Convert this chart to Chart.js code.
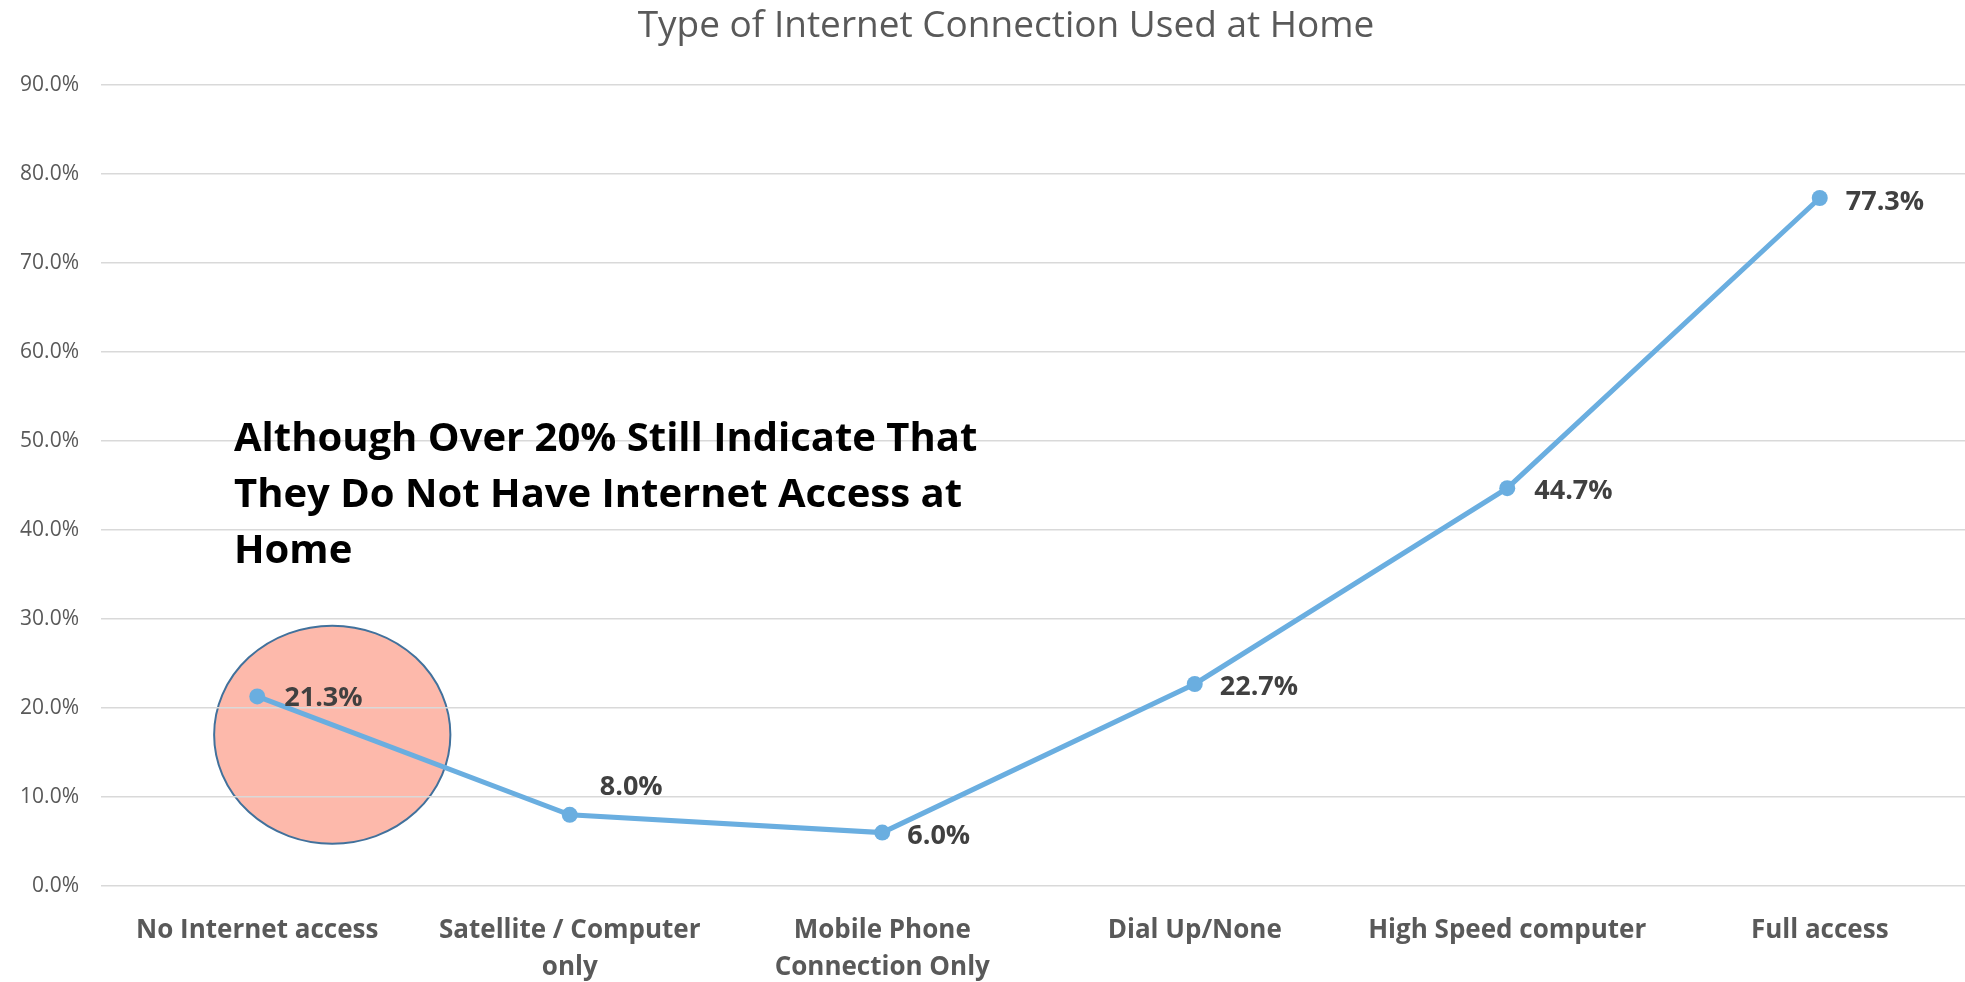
<!DOCTYPE html>
<html lang="en">
<head>
<meta charset="UTF-8">
<title>Type of Internet Connection Used at Home</title>
<script src="https://cdn.jsdelivr.net/npm/chart.js"></script>
<style>
    html, body {
        margin: 0;
        padding: 0;
        background: #ffffff;
        overflow: hidden;
    }
</style>
</head>
<body>
<canvas id="connChart" width="1984" height="982"></canvas>
<script>
// Chart data
const chartTitle = 'Type of Internet Connection Used at Home';
const categories = [
    'No Internet access',
    ['Satellite / Computer', 'only'],
    ['Mobile Phone', 'Connection Only'],
    'Dial Up/None',
    'High Speed computer',
    'Full access'
];
const shareValues = [21.3, 8.0, 6.0, 22.7, 44.7, 77.3];
const noteLines = [
    'Although Over 20% Still Indicate That',
    'They Do Not Have Internet Access at',
    'Home'
];

const FONT = "'Open Sans', Lato, sans-serif";
const LINE_BLUE = '#6aaee0';

// where each value label sits relative to its point (px)
const labelShift = [[27, 2], [30, -27], [25, 4], [25, 3], [27, 3], [26, 4]];

// title, salmon ellipse behind the first point, bold note
const calloutPlugin = {
    id: 'callout',
    beforeDraw(chart) {
        const { ctx, scales: { x, y } } = chart;
        const cx = x.getPixelForValue(0.24);
        const cy = y.getPixelForValue(17);
        const rx = (x.getPixelForValue(1) - x.getPixelForValue(0)) * 0.378;
        const ry = y.getPixelForValue(0) - y.getPixelForValue(12.25);
        ctx.save();
        ctx.beginPath();
        ctx.ellipse(cx, cy, rx, ry, 0, 0, Math.PI * 2);
        ctx.fillStyle = '#fdb9ab';
        ctx.fill();
        ctx.lineWidth = 2;
        ctx.strokeStyle = '#41719c';
        ctx.stroke();
        ctx.restore();
    },
    afterDraw(chart) {
        const { ctx, chartArea } = chart;
        ctx.save();
        // title (sits a little right of the canvas centre, as in the original)
        ctx.fillStyle = '#595959';
        ctx.font = '37px ' + FONT;
        ctx.textAlign = 'center';
        ctx.textBaseline = 'middle';
        ctx.fillText(chartTitle, 1006, 26);

        ctx.fillStyle = '#000000';
        ctx.font = 'bold 40px ' + FONT;
        ctx.textAlign = 'left';
        ctx.textBaseline = 'alphabetic';
        noteLines.forEach((line, i) => {
            ctx.fillText(line, chartArea.left + 133, chartArea.top + 366 + i * 56);
        });
        ctx.restore();
    }
};

// value labels to the right of the points
const valueLabelPlugin = {
    id: 'valueLabels',
    afterDatasetsDraw(chart) {
        const { ctx } = chart;
        const meta = chart.getDatasetMeta(0);
        ctx.save();
        ctx.fillStyle = '#404040';
        ctx.font = 'bold 27px ' + FONT;
        ctx.textAlign = 'left';
        ctx.textBaseline = 'middle';
        meta.data.forEach((pt, i) => {
            const [dx, dy] = labelShift[i];
            ctx.fillText(shareValues[i].toFixed(1) + '%', pt.x + dx, pt.y + dy);
        });
        ctx.restore();
    }
};

new Chart(document.getElementById('connChart'), {
    type: 'line',
    data: {
        labels: categories,
        datasets: [{
            data: shareValues,
            borderColor: LINE_BLUE,
            backgroundColor: LINE_BLUE,
            borderWidth: 5,
            pointRadius: 8,
            pointBorderWidth: 0,
            pointBackgroundColor: LINE_BLUE,
            tension: 0
        }]
    },
    options: {
        responsive: false,
        animation: false,
        layout: { padding: { left: 0, right: 2, top: 85, bottom: 0 } },
        plugins: {
            legend: { display: false },
            tooltip: { enabled: false },
            title: { display: false }
        },
        scales: {
            x: {
                offset: true,
                grid: { display: false },
                border: { display: false },
                ticks: {
                    color: '#595959',
                    font: { family: FONT, size: 26, weight: 'bold', lineHeight: 1.42 },
                    padding: 18,
                    maxRotation: 0,
                    autoSkip: false
                },
                afterFit(scale) { scale.height = 96; }
            },
            y: {
                min: 0,
                max: 90,
                ticks: {
                    stepSize: 10,
                    color: '#595959',
                    font: { family: FONT, size: 21 },
                    padding: 22,
                    callback: v => v.toFixed(1) + '%'
                },
                grid: { color: '#d9d9d9', lineWidth: 1.5, drawTicks: false },
                border: { display: false },
                afterFit(scale) { scale.width = 101; }
            }
        }
    },
    plugins: [calloutPlugin, valueLabelPlugin]
});
</script>
</body>
</html>
